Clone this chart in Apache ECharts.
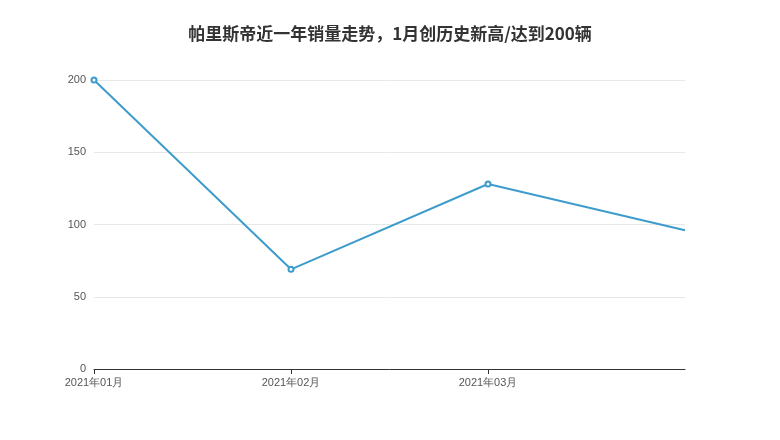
<!DOCTYPE html>
<html><head><meta charset="utf-8">
<script src="https://cdn.jsdelivr.net/npm/echarts@6/dist/echarts.min.js"></script>
<style>html,body{margin:0;padding:0;background:#fff}#c{width:780px;height:440px}</style>
</head><body><div id="c"></div>
<script>
const title = '帕里斯帝近一年销量走势，1月创历史新高/达到200辆';
const categories = ['2021年01月','2021年02月','2021年03月','2021年04月'];
const sales = [200, 69, 128, 96];
const yTicks = [0, 50, 100, 150, 200];
const chart = echarts.init(document.getElementById('c'));
chart.setOption({
  animation:false,
  title:{text:title,left:'center',top:20,textStyle:{fontSize:17,fontWeight:'bold',color:'#333',fontFamily:'Noto Sans CJK SC'}},
  grid:{left:94,right:95,top:80,bottom:71},
  xAxis:{type:'category',data:categories,boundaryGap:false,
    axisLine:{lineStyle:{color:'#333'}},axisTick:{show:true,lineStyle:{color:'#333'},interval:(i)=>i<categories.length-1},
    axisLabel:{color:'#555',fontSize:11,formatter:(v,i)=>i===categories.length-1?'':v}},
  yAxis:{type:'value',min:yTicks[0],max:yTicks[yTicks.length-1],interval:50,
    axisLine:{show:false},axisTick:{show:false},
    axisLabel:{color:'#555',fontSize:11},splitLine:{lineStyle:{color:'#e8e8e8'}}},
  series:[{type:'line',
    data:sales.map((v,i)=>i===sales.length-1?{value:v,symbol:'none'}:v),
    symbol:'emptyCircle',symbolSize:5,
    lineStyle:{color:'#3d9ccc',width:2},itemStyle:{color:'#3d9ccc'}}]
});
</script></body></html>
